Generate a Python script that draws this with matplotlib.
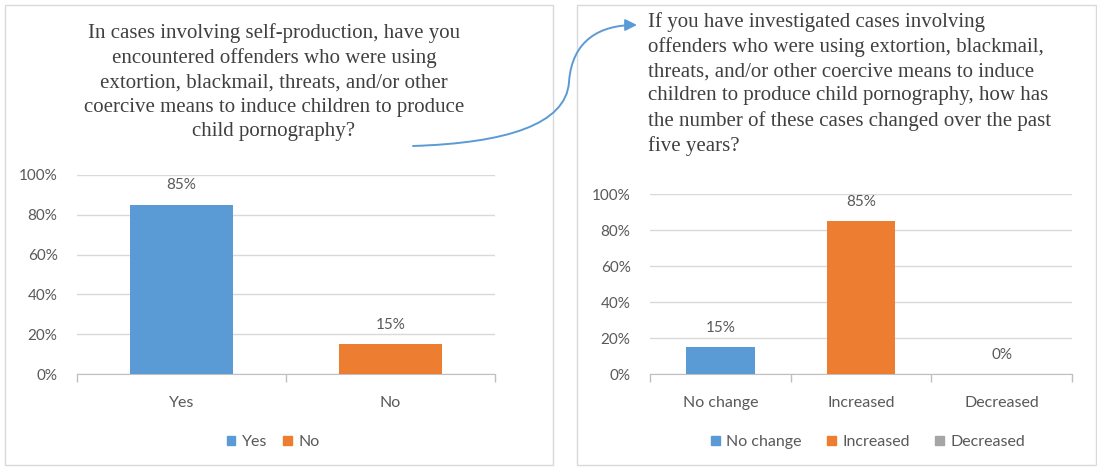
import matplotlib.pyplot as plt
import numpy as np
from matplotlib.patches import Rectangle, FancyArrowPatch, Patch
from matplotlib.path import Path

# survey answers, share of respondents
q1_cats = ["Yes", "No"]
q1_vals = [0.85, 0.15]
q1_title = ("In cases involving self-production, have you\n"
            "encountered offenders who were using\n"
            "extortion, blackmail, threats, and/or other\n"
            "coercive means to induce children to produce\n"
            "child pornography?")

q2_cats = ["No change", "Increased", "Decreased"]
q2_vals = [0.15, 0.85, 0.0]
q2_title = ("If you have investigated cases involving\n"
            "offenders who were using extortion, blackmail,\n"
            "threats, and/or other coercive means to induce\n"
            "children to produce child pornography, how has\n"
            "the number of these cases changed over the past\n"
            "five years?")

COLORS = ["#5b9bd5", "#ed7d31", "#a5a5a5"]
TXT = "#595959"
W, H = 1097, 469

plt.rcParams['font.family'] = ['Lato', 'DejaVu Sans']

fig = plt.figure(figsize=(W / 100, H / 100), dpi=100)


def px_box(x0, x1, ytop, ybot):
    return [x0 / W, 1 - ybot / H, (x1 - x0) / W, (ybot - ytop) / H]


def fx(x):
    return x / W


def fy(y):
    return 1 - y / H


# panel frames
for x0, x1 in [(5, 553), (577, 1096)]:
    fig.patches.append(Rectangle((fx(x0), fy(465)), fx(x1) - fx(x0), fy(5) - fy(465),
                                 transform=fig.transFigure, fill=False,
                                 edgecolor="#d9d9d9", linewidth=1))


def bar_panel(rect, cats, vals):
    ax = fig.add_axes(rect)
    x = np.arange(len(cats))
    ax.bar(x, vals, width=0.49, color=COLORS[:len(cats)], zorder=3)
    for xi, v in zip(x, vals):
        ax.annotate(f"{v:.0%}", (xi, v), xytext=(0, 9), textcoords="offset points",
                    ha="center", va="bottom", fontsize=11, color=TXT)
    ax.set_ylim(0, 1)
    ax.set_xlim(-0.5, len(cats) - 0.5)
    ax.set_yticks(np.arange(0, 1.01, 0.2))
    ax.set_yticklabels([f"{t:.0%}" for t in np.arange(0, 1.01, 0.2)])
    ax.yaxis.grid(True, color="#d9d9d9", linewidth=1, zorder=0)
    ax.set_xticks(x)
    ax.set_xticklabels(cats)
    ax.set_xticks(np.arange(-0.5, len(cats)), minor=True)
    ax.tick_params(axis="x", which="major", length=0, pad=16, labelsize=11.5, labelcolor=TXT)
    ax.tick_params(axis="x", which="minor", length=6, color="#bfbfbf", width=1)
    ax.tick_params(axis="y", length=0, pad=14, labelsize=11, labelcolor=TXT)
    for s in ["top", "right", "left"]:
        ax.spines[s].set_visible(False)
    ax.spines["bottom"].set_color("#bfbfbf")
    return ax


ax1 = bar_panel(px_box(77, 495, 175, 374), q1_cats, q1_vals)
ax2 = bar_panel(px_box(650, 1072, 194, 374), q2_cats, q2_vals)

# titles
fig.text(fx(274), fy(23), q1_title, ha="center", va="top", fontsize=15,
         family="Liberation Serif", color="#404040", linespacing=1.38)
fig.text(fx(648), fy(12), q2_title, ha="left", va="top", fontsize=15,
         family="Liberation Serif", color="#404040", linespacing=1.36)

# legends
h1 = [Patch(color=c) for c in COLORS[:2]]
fig.legend(h1, q1_cats, loc="center", bbox_to_anchor=(fx(273), fy(442)), ncol=2,
           frameon=False, fontsize=11.5, handlelength=0.55, handleheight=0.55,
           handletextpad=0.4, columnspacing=1.0, labelcolor=TXT)
h2 = [Patch(color=c) for c in COLORS]
fig.legend(h2, q2_cats, loc="center", bbox_to_anchor=(fx(868), fy(442)), ncol=3,
           frameon=False, fontsize=11.5, handlelength=0.55, handleheight=0.55,
           handletextpad=0.4, columnspacing=1.6, labelcolor=TXT)

# connector arrow between the two questions
pts = [(413, 146), (505, 143), (566, 125), (569, 82),
       (572, 40), (600, 25), (637, 25)]
verts = [(fx(x), fy(y)) for x, y in pts]
codes = [Path.MOVETO] + [Path.CURVE4] * 6
fig.patches.append(FancyArrowPatch(path=Path(verts, codes), transform=fig.transFigure,
                                   arrowstyle="-|>,head_length=7,head_width=3.5",
                                   color="#5b9bd5", linewidth=1.4))

fig.savefig("out.png", dpi=100)
